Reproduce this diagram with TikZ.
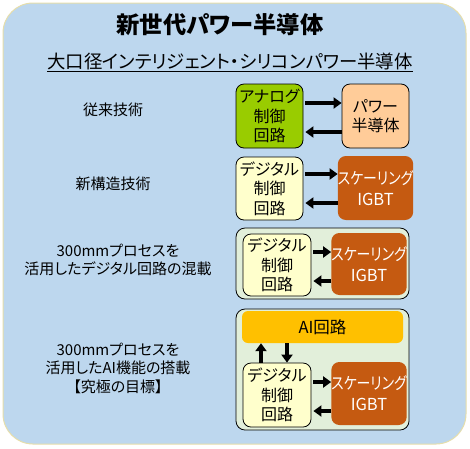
\documentclass[tikz,border=0pt]{standalone}
\usepackage{fontspec}
\setmainfont[RawFeature=+palt]{Noto Sans CJK JP}
\newfontfamily\narrowjp[RawFeature=+palt,FakeStretch=0.84]{Noto Sans CJK JP}
\usetikzlibrary{arrows.meta}
\definecolor{bgblue}{RGB}{189,215,238}
\definecolor{bgedge}{RGB}{230,222,170}
\definecolor{agreen}{RGB}{153,204,0}
\definecolor{peach}{RGB}{255,204,153}
\definecolor{cream}{RGB}{255,255,204}
\definecolor{rust}{RGB}{197,90,17}
\definecolor{panel}{RGB}{226,239,218}
\definecolor{amber}{RGB}{255,192,0}
\newcommand{\igbttext}{{\narrowjp\fontsize{16.5}{20}\selectfont スケーリング}\\IGBT}
\tikzset{
  blk/.style={draw=black, line width=0.8pt, rounded corners=8pt, align=center, inner sep=0pt,
     minimum width=67pt, minimum height=64pt, font=\fontsize{16}{19.5}\selectfont},
  igbt/.style={fill=rust, rounded corners=8pt, align=center, inner sep=0pt, text=white,
     minimum width=68pt, minimum height=63pt, font=\fontsize{16.5}{21}\selectfont},
  panelbox/.style={draw=black, line width=0.8pt, fill=panel, rounded corners=9pt, minimum width=173pt, inner sep=0pt},
  lbl/.style={align=center, font=\fontsize{15}{18.5}\selectfont},
  arr/.style={line width=3.4pt, -{Triangle[length=8pt,width=11pt]}},
}
\begin{document}
\begin{tikzpicture}[x=1pt,y=-1pt]
\useasboundingbox (0,0) rectangle (470,448);
\node[draw=bgedge, line width=1pt, fill=bgblue, rounded corners=30pt, minimum width=463pt, minimum height=441pt, inner sep=0pt] (bg) at (234.5,223.5) {};
\node[font=\fontsize{23.3}{26}\selectfont\bfseries] (title) at (220,25) {新世代パワー半導体};
\node[font=\fontsize{18.4}{20}\selectfont] (sub) at (230,62) {\underline{大口径インテリジェント・シリコンパワー半導体}};

% labels
\node[lbl] (l1) at (113,110) {従来技術};
\node[lbl] (l2) at (113,184) {新構造技術};
\node[lbl] (l3) at (118,260) {300mmプロセスを\\活用したデジタル回路の混載};
\node[lbl] (l4) at (118,368) {300mmプロセスを\\活用したAI機能の搭載\\【究極の目標】};

% row 1
\node[blk, fill=agreen] (ana) at (269.5,116) {アナログ\\制御\\回路};
\node[blk, fill=peach] (pow) at (375.5,116) {パワー\\半導体};
\draw[arr] (ana.east |- 0,103) ++(2,0) -- (pow.west |- 0,103);
\draw[arr] (pow.west |- 0,132) -- ([xshift=2pt]ana.east |- 0,132);

% row 2
\node[blk, fill=cream, minimum height=63pt] (dig2) at (269.5,188.5) {デジタル\\制御\\回路};
\node[igbt, minimum width=67pt, minimum height=64pt] (igbt2) at (375.5,188) {\igbttext};
\draw[arr] (dig2.east |- 0,174) ++(2,0) -- (igbt2.west |- 0,174);
\draw[arr] (igbt2.west |- 0,203) -- ([xshift=2pt]dig2.east |- 0,203);

% row 3
\node[panelbox, minimum height=71pt] (pan3) at (322.5,263.5) {};
\node[blk, fill=cream, minimum width=68pt, minimum height=62pt] (dig3) at (277,265) {デジタル\\制御\\回路};
\node[igbt, minimum height=62pt] (igbt3) at (369,264) {\igbttext};
\draw[arr] (dig3.east |- 0,252) ++(2,0) -- (igbt3.west |- 0,252);
\draw[arr] (igbt3.west |- 0,281) -- ([xshift=2pt]dig3.east |- 0,281);

% row 4
\node[panelbox, minimum height=121pt] (pan4) at (322.5,369.5) {};
\node[fill=amber, rounded corners=6pt, minimum width=161pt, minimum height=32pt, inner sep=0pt, font=\fontsize{16.5}{19}\selectfont] (ai) at (322.5,327) {AI回路};
\node[blk, fill=cream, minimum width=68pt, minimum height=64pt] (dig4) at (277,395) {デジタル\\制御\\回路};
\node[igbt] (igbt4) at (369,393.5) {\igbttext};
\draw[arr] (dig4.north -| 261,0) -- (ai.south -| 261,0);
\draw[arr] (ai.south -| 287,0) -- (dig4.north -| 287,0);
\draw[arr] (dig4.east |- 0,382) ++(2,0) -- (igbt4.west |- 0,382);
\draw[arr] (igbt4.west |- 0,411) -- ([xshift=2pt]dig4.east |- 0,411);
\end{tikzpicture}
\end{document}
